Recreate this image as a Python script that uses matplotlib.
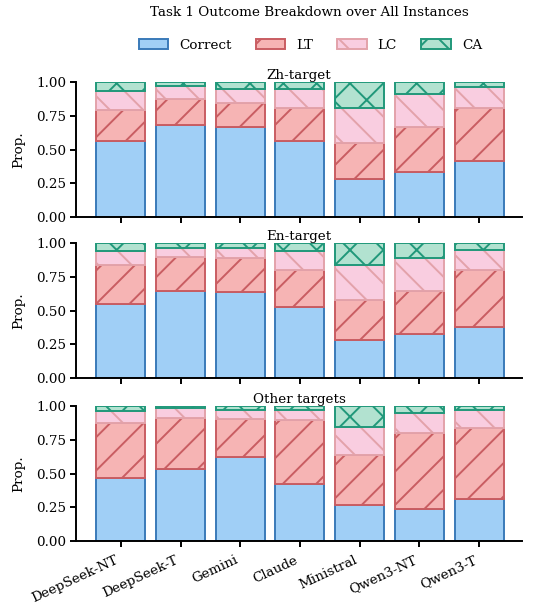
import numpy as np
import matplotlib
matplotlib.use('Agg')
import matplotlib.pyplot as plt

plt.rcParams['font.family'] = ['DejaVu Serif']
plt.rcParams['hatch.linewidth'] = 1.4

models = ['DeepSeek-NT', 'DeepSeek-T', 'Gemini', 'Claude', 'Ministral', 'Qwen3-NT', 'Qwen3-T']
categories = ['Correct', 'LT', 'LC', 'CA']
panels = ['Zh-target', 'En-target', 'Other targets']

# proportions per panel: Correct, LT, LC (CA fills the rest up to 1)
zh_correct = [0.562, 0.683, 0.668, 0.564, 0.280, 0.332, 0.416]
zh_lt = [0.233, 0.191, 0.179, 0.245, 0.267, 0.336, 0.391]
zh_lc = [0.143, 0.096, 0.101, 0.144, 0.262, 0.245, 0.158]

en_correct = [0.552, 0.647, 0.642, 0.527, 0.284, 0.328, 0.383]
en_lt = [0.286, 0.249, 0.251, 0.279, 0.298, 0.316, 0.418]
en_lc = [0.105, 0.072, 0.070, 0.137, 0.256, 0.244, 0.147]

ot_correct = [0.469, 0.533, 0.620, 0.425, 0.269, 0.235, 0.309]
ot_lt = [0.410, 0.381, 0.286, 0.474, 0.371, 0.563, 0.531]
ot_lc = [0.084, 0.074, 0.064, 0.071, 0.204, 0.150, 0.130]

data = {
    'Zh-target': (zh_correct, zh_lt, zh_lc),
    'En-target': (en_correct, en_lt, en_lc),
    'Other targets': (ot_correct, ot_lt, ot_lc),
}

fills = ['#a0cff6', '#f6b4b4', '#f9cde0', '#b2e2d0']
edges = ['#3a7ab9', '#c95d62', '#e3a2aa', '#21987a']
hatches = ['', '/', '\\', 'x']

fig = plt.figure(figsize=(5.53, 6.10), dpi=100)
x = np.arange(len(models))
fs = 9.7

bottoms_pos = [0.644, 0.380, 0.113]
h = 0.221
axes = []
for i, name in enumerate(panels):
    ax = fig.add_axes([0.1375, bottoms_pos[i], 0.8065, h])
    axes.append(ax)
    c, lt, lc = data[name]
    ca = [1 - a - b - d for a, b, d in zip(c, lt, lc)]
    vals = [c, lt, lc, ca]
    bottom = np.zeros(len(models))
    for j, cat in enumerate(categories):
        ax.bar(x, vals[j], 0.82, bottom=bottom, color=fills[j], edgecolor=edges[j],
               hatch=hatches[j], linewidth=1.4, label=cat)
        bottom += np.array(vals[j])
    ax.set_ylim(0, 1)
    ax.set_xlim(-0.75, 6.72)
    ax.set_yticks([0, 0.25, 0.5, 0.75, 1.0])
    ax.set_yticklabels(['%.2f' % v for v in [0, 0.25, 0.5, 0.75, 1.0]], fontsize=fs)
    ax.set_xticks(x)
    if i == 2:
        ax.set_xticklabels(models, rotation=25, ha='right', fontsize=fs)
    else:
        ax.set_xticklabels([])
    ax.set_ylabel('Prop.', fontsize=fs, labelpad=8)
    ax.set_title(name, fontsize=fs, pad=2)
    for s in ['top', 'right']:
        ax.spines[s].set_visible(False)
    for s in ['left', 'bottom']:
        ax.spines[s].set_linewidth(1.4)
    ax.tick_params(length=4, width=1.4, pad=2.7)
    ax.tick_params(axis='x', pad=5)

handles, labels = axes[0].get_legend_handles_labels()
fig.legend(handles, labels, loc='center', bbox_to_anchor=(0.561, 0.926), ncol=4,
           frameon=False, fontsize=fs, handlelength=2.2, handleheight=0.75,
           columnspacing=1.8, handletextpad=0.8)
fig.suptitle('Task 1 Outcome Breakdown over All Instances', fontsize=fs, x=0.56, y=0.99)

fig.savefig('out.png', dpi=100)
